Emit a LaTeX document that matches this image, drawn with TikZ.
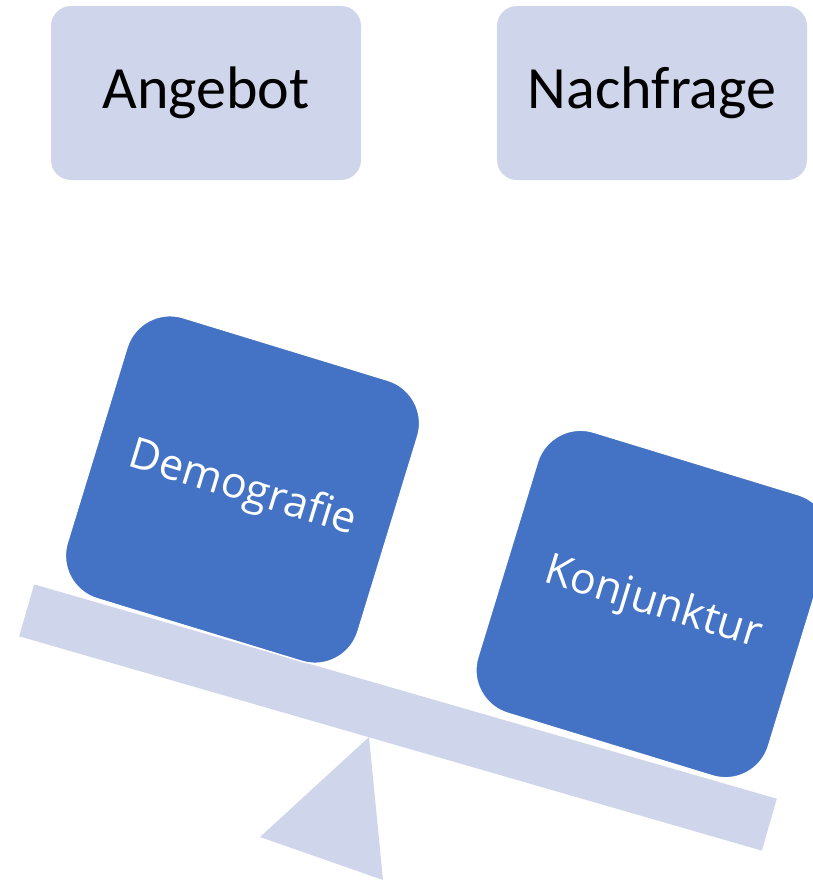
\documentclass[tikz,border=0pt]{standalone}
\usepackage{fontspec}
\setmainfont{Carlito}
\newfontfamily\weightfont[Ligatures=NoCommon]{Open Sans}
\usepackage{xcolor}
\usepackage{tikz}
\usetikzlibrary{positioning}

\definecolor{lavender}{HTML}{CFD5EA}
\definecolor{boxblue}{HTML}{4472C4}

\begin{document}
\begin{tikzpicture}[x=1pt, y=-1pt,
        topbox/.style={fill=lavender, rounded corners=20pt, minimum width=310pt,
            minimum height=174pt, inner sep=0pt, font=\fontsize{60}{72}\selectfont},
        weight/.style={fill=boxblue, draw=white, line width=1.5pt, rounded corners=45pt,
            minimum width=304pt, minimum height=294pt, inner sep=0pt, rotate=-17,
            text=white, font=\weightfont\fontsize{43}{52}\selectfont}]

        \useasboundingbox (0, 0) rectangle (813, 880);
        \clip (0, 0) rectangle (813, 880);

        % the two sides on top
        \node[topbox] (A) at (206, 93) {Angebot};
        \node[topbox] (N) at (652, 93) {Nachfrage};

        % fulcrum below the beam
        \fill[lavender] (369, 737) -- (260, 837) -- (383, 880) -- cycle;

        % beam of the scale
        \node[fill=lavender, minimum width=773pt, minimum height=54pt,
            inner sep=0pt, rotate=-16.1] (beam) at (398, 717.5) {};

        % the weights lying on the beam
        \node[weight] (D) at (242.5, 489.5) {Demografie};
        \node[weight] (K) at (653, 604) {Konjunktur};

\end{tikzpicture}
\end{document}
